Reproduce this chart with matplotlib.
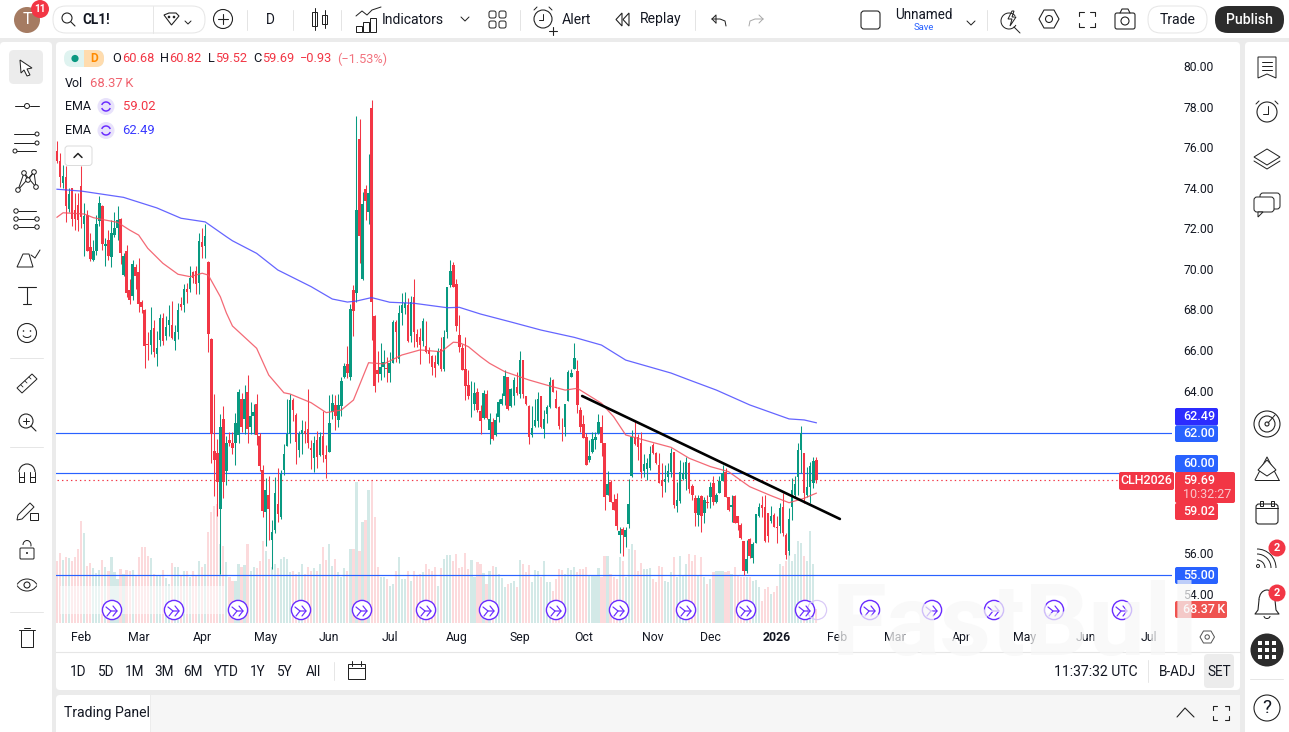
import matplotlib
matplotlib.use("Agg")
import matplotlib.pyplot as plt
from matplotlib.patches import FancyBboxPatch, Rectangle, Circle, Polygon, Arc

plt.rcParams['font.family'] = ['Roboto', 'DejaVu Sans']

# ---------- data ----------
opens = [75.9,75.4,74.3,74.6,73.05,74.05,73.0,73.2,74.15,72.3,72.75,71.15,70.5,70.95,72.45,73.15,71.2,71.5,70.65,71.75,
72.1,72.55,69.75,70.95,69.05,68.75,70.15,69.9,68.45,68.05,66.35,66.3,67.15,65.9,66.55,67.65,66.75,67.3,67.3,66.5,
66.95,68.35,68.3,69.1,69.1,69.9,69.95,69.4,71.4,71.2,70.4,66.6,61.1,61.0,58.25,62.7,60.1,61.65,61.5,61.5,
61.9,63.65,62.7,64.0,62.3,62.8,63.4,61.85,60.15,58.1,58.95,56.7,57.2,58.5,57.85,60.15,61.35,61.95,63.6,62.85,
61.15,61.95,62.1,62.2,61.25,60.75,61.65,60.9,61.85,60.9,61.05,63.0,63.35,62.65,63.3,64.75,65.4,64.75,69.05,68.87,
76.5,69.56,74.0,72.9,78.0,67.75,65.09,64.88,65.25,65.17,64.93,65.42,67.47,65.62,67.92,68.13,68.29,66.77,68.69,66.86,
66.7,66.54,66.27,66.08,65.8,65.5,65.37,66.13,65.12,66.98,69.28,70.27,69.31,66.8,66.16,65.12,64.35,63.85,63.41,63.99,
63.07,62.71,63.9,62.13,62.54,61.89,62.76,63.41,63.81,64.73,63.31,63.81,64.23,63.9,65.58,63.81,63.31,61.89,62.33,62.59,
63.81,62.18,62.92,63.28,64.6,63.64,63.25,62.3,62.3,63.58,64.73,65.12,65.06,63.12,62.43,61.8,60.65,61.06,61.64,61.97,
62.26,61.47,58.93,59.57,58.6,58.71,56.96,57.24,56.87,57.5,59.88,61.8,61.77,61.48,60.13,60.2,60.25,61.4,60.98,60.41,
59.67,59.59,59.83,60.08,61.05,58.39,58.65,59.72,59.7,60.52,59.37,58.8,57.95,58.88,58.03,58.57,58.85,59.5,58.6,59.05,
59.64,60.08,58.82,58.32,58.88,57.9,57.45,56.66,55.2,56.76,55.81,56.58,57.9,58.44,58.36,58.03,57.67,57.95,57.37,57.4,
58.32,56.96,56.19,58.36,58.93,59.83,61.15,60.98,58.93,59.31,59.54,60.68]
closes = [75.4,74.6,74.65,73.15,73.75,72.55,72.55,72.5,72.65,72.7,70.95,70.55,70.95,72.3,73.3,71.3,71.3,70.7,71.85,72.1,
72.5,70.85,70.7,68.9,68.55,70.3,69.7,68.35,68.2,66.25,66.3,67.05,66.0,66.2,67.65,66.5,67.2,67.55,66.65,66.95,
68.05,68.2,69.1,68.95,69.65,69.65,69.35,71.45,71.15,71.7,66.85,61.95,60.65,59.55,62.3,59.55,61.5,61.5,61.25,62.5,
64.0,62.3,63.65,62.2,62.8,63.0,61.9,60.35,58.15,59.2,58.25,57.1,59.05,58.0,59.95,60.95,61.95,63.6,63.1,61.55,
61.95,62.15,61.95,61.5,61.15,61.5,60.8,61.8,60.9,60.7,62.5,63.45,62.8,63.35,64.55,65.3,64.95,68.1,68.0,72.98,
71.7,73.25,73.42,73.8,68.46,64.32,64.88,65.25,65.47,65.12,65.42,67.47,66.95,67.88,68.29,68.38,66.54,68.42,66.95,66.49,
66.32,67.5,66.0,65.88,65.25,65.2,66.03,65.12,66.7,69.2,69.97,69.2,67.26,66.24,65.09,64.3,63.81,63.88,63.94,63.12,
62.59,63.94,62.71,62.66,61.67,62.62,63.5,63.64,64.79,63.15,64.14,64.6,63.94,65.58,63.9,63.41,61.8,62.21,62.62,63.64,
62.3,62.66,63.25,64.51,64.02,63.2,62.33,62.27,63.41,65.0,64.92,65.66,63.36,62.26,61.75,60.41,60.85,61.7,61.8,62.51,
61.47,58.85,59.47,58.6,58.19,57.4,57.15,56.96,57.2,58.48,61.77,61.44,61.28,60.08,60.46,60.49,60.95,60.98,60.49,59.54,
59.37,59.7,60.11,61.02,58.44,58.68,60.08,60.0,60.57,59.21,58.93,58.03,58.8,57.9,58.68,58.55,59.31,58.57,58.93,59.64,
60.03,58.85,58.19,58.44,57.53,57.53,56.8,55.2,55.78,55.94,56.52,58.0,58.32,58.27,56.68,56.91,57.9,57.37,57.3,58.27,
57.07,55.97,57.73,59.18,59.47,61.15,61.97,59.01,59.31,60.36,60.61,59.69]
highs = [76.4,75.8,75.2,75.15,74.05,74.05,73.8,73.8,75.15,73.3,73.0,71.85,71.5,72.75,73.65,73.2,71.6,72.0,72.5,72.9,
73.15,72.6,70.85,71.25,69.6,70.5,70.3,70.6,68.55,68.1,66.95,68.2,67.55,67.0,67.85,67.9,67.75,68.3,68.5,67.3,
68.4,68.7,69.35,69.4,70.2,69.95,70.2,71.85,72.1,72.3,70.45,66.65,63.9,61.7,62.9,63.3,61.85,62.05,62.05,62.95,
64.15,63.95,64.35,64.85,63.5,63.4,63.9,62.0,60.4,59.75,59.85,57.7,59.8,60.25,60.15,61.45,63.65,63.9,63.7,62.95,
62.1,62.65,62.6,64.15,61.65,61.85,62.1,62.05,63.05,61.4,63.85,63.9,63.85,63.9,64.75,65.45,66.25,68.35,69.3,77.6,
77.46,73.88,74.2,75.74,78.4,67.8,66.03,66.4,66.07,65.75,66.0,67.55,67.55,68.29,68.9,68.95,68.62,68.74,69.6,67.13,
67.14,67.64,67.5,66.24,65.83,65.83,66.16,66.7,67.06,69.2,70.51,70.4,69.6,67.8,66.37,66.7,65.09,64.55,64.51,64.18,
63.36,64.1,64.1,62.95,62.75,62.95,63.66,63.94,65.09,64.73,64.18,64.73,65.0,66.02,65.6,63.81,63.36,63.31,63.64,64.02,
63.81,63.12,63.36,64.76,64.63,64.1,63.31,62.75,63.41,65.09,65.12,66.4,65.6,63.28,62.87,62.0,61.64,62.05,62.05,62.9,
62.87,61.47,60.13,59.67,59.0,59.04,57.37,57.37,57.37,59.7,62.13,62.59,61.95,62.05,60.95,60.74,61.34,61.47,61.05,60.98,
60.49,60.41,60.49,61.23,61.07,59.59,60.66,60.57,60.82,60.57,59.47,58.93,58.93,58.93,58.85,58.93,59.59,59.87,59.05,59.87,
60.41,60.25,58.85,58.93,58.93,57.9,57.53,56.66,56.71,56.8,56.6,58.0,58.52,58.88,58.93,58.03,58.39,58.03,57.9,58.52,
59.01,57.04,58.27,59.75,59.87,61.48,62.33,61.02,60.29,60.57,60.82,60.82]
lows = [75.3,74.1,74.05,72.4,72.9,72.2,72.0,71.95,72.1,70.7,70.95,70.45,70.45,70.75,72.2,71.0,70.2,70.5,70.15,71.65,
71.5,70.3,69.7,68.7,68.35,68.55,69.1,67.95,67.9,65.2,65.6,65.9,65.75,65.3,66.25,66.3,66.55,66.75,66.6,66.1,
66.6,68.05,67.95,68.4,68.95,69.4,68.85,68.85,70.6,70.6,66.0,60.5,58.9,57.9,55.05,58.8,59.4,61.35,60.95,60.4,
61.5,62.05,61.95,61.5,61.95,61.95,61.4,60.1,57.85,56.4,56.7,55.3,57.05,57.6,57.75,59.9,61.35,61.5,62.6,60.45,
60.8,60.95,61.5,61.25,60.2,60.05,60.25,60.85,60.55,59.75,61.05,62.7,62.15,62.3,62.8,64.7,64.7,64.6,66.75,68.46,
70.35,69.53,72.5,72.3,66.57,64.02,64.52,64.6,64.76,64.52,64.52,65.42,65.5,65.42,67.31,67.85,66.45,66.49,66.24,66.24,
65.39,66.27,65.91,65.42,64.84,64.73,65.34,65.06,65.06,66.65,69.2,69.16,67.03,66.0,65.09,63.6,63.64,62.79,63.12,63.04,
61.93,62.66,62.66,61.44,61.64,61.84,62.54,63.36,63.36,63.12,63.25,63.36,63.86,63.69,63.7,63.36,61.44,61.77,62.3,62.3,
62.21,61.72,62.46,63.2,63.99,63.2,62.16,61.6,61.84,63.58,64.73,65.12,62.99,62.05,61.72,60.41,60.57,61.0,61.18,61.93,
60.85,58.19,58.93,58.6,58.19,57.2,56.08,55.92,56.38,57.29,59.83,61.4,60.65,59.75,59.8,59.67,60.16,60.95,60.45,59.5,
58.85,59.1,59.59,59.83,58.27,58.11,58.55,59.67,59.18,59.01,58.68,57.4,57.4,57.12,57.57,58.27,58.27,58.44,58.52,59.01,
59.62,58.82,58.16,57.62,57.53,57.21,56.75,54.99,55.07,55.81,55.6,56.55,57.83,57.86,56.63,56.63,57.57,57.34,56.58,57.04,
56.91,55.76,55.97,57.7,58.77,58.93,60.0,58.55,58.85,58.55,59.26,59.52]
volumes = [312,349,316,332,326,312,332,371,512,449,287,301,276,251,266,316,279,259,332,254,
221,271,246,266,259,266,237,329,382,379,337,326,246,237,241,267,226,196,299,279,
282,237,259,259,229,262,237,309,282,296,454,554,587,596,396,387,304,229,212,212,
296,279,292,396,262,282,276,309,412,359,321,279,296,276,321,329,321,254,262,246,
254,296,246,279,262,276,259,296,379,316,396,287,321,254,229,276,262,371,371,704,
362,504,516,667,716,532,279,229,229,221,187,196,262,329,221,221,259,212,262,237,
246,254,296,271,262,279,187,276,321,342,342,312,346,276,279,349,271,317,229,304,
296,249,196,262,287,279,246,226,179,196,199,209,182,317,296,254,292,204,266,259,
229,309,204,204,162,221,271,266,246,276,266,282,254,271,271,279,237,237,237,276,
229,337,337,246,229,221,329,312,229,371,396,367,262,301,271,271,276,221,204,287,
279,212,204,254,329,229,337,237,296,346,312,342,237,329,232,196,221,254,259,262,
262,254,262,246,282,237,229,232,232,229,212,216,179,112,171,179,146,154,187,296,
287,312,354,312,346,409,401,337,312,462,296,68]

ema_slow_bar = [0,8,22,33,41,49,56,58,66,73,84,91,96,99,104,110,118,129,133,140,150,160,171,180,188,203,209,218,229,242,247,251]
ema_slow_val = [74.0,73.91,73.6,73.08,72.57,72.39,71.66,71.46,70.84,70.02,69.2,68.59,68.44,68.49,68.66,68.43,68.38,68.16,68.18,67.85,67.46,67.06,66.7,66.32,65.58,64.94,64.6,64.1,63.37,62.68,62.63,62.49]
ema_fast_bar = [0,2,9,12,16,20,24,27,30,35,40,44,48,50,54,56,58,66,70,75,77,84,89,94,98,103,108,114,120,127,131,133,136,140,143,148,156,163,168,172,180,184,188,196,203,209,216,222,229,236,242,247,251]
ema_fast_val = [72.62,72.84,72.78,72.6,72.48,72.37,71.99,71.74,71.09,70.35,69.81,69.69,69.86,69.77,68.7,67.9,67.26,66.16,64.84,63.97,63.91,63.48,62.99,63.12,63.61,65.45,65.39,65.83,66.08,65.99,66.46,66.44,66.24,65.75,65.42,65.01,64.6,64.3,64.1,64.19,63.45,62.79,61.89,61.56,61.28,60.74,60.33,60.08,59.34,58.9,58.55,58.77,59.02]

trend_bar = [173.6, 258.8]
trend_val = [63.81, 57.75]
level_lines = [62.0, 60.0, 55.0]
last_price = 59.69

price_ticks = [80,78,76,74,72,70,68,66,64,56,54]
month_labels = ['Feb','Mar','Apr','May','Jun','Jul','Aug','Sep','Oct','Nov','Dec','2026','Feb','Mar','Apr','May','Jun','Jul']
month_bars = [8,27,48,69,90,110,132,153,174,197,216,238,258,277,299,320,340,361]
range_labels = ['1D','5D','1M','3M','6M','YTD','1Y','5Y','All']

GREEN, RED, BLUE = '#089981', '#f23645', '#2962ff'
INK = '#131722'
W, H = 1289, 732

fig = plt.figure(figsize=(W/100, H/100), dpi=100, facecolor='#ebebeb')

# ---------- background panels ----------
bg = fig.add_axes([0,0,1,1], zorder=0); bg.set_xlim(0,W); bg.set_ylim(H,0); bg.axis('off')
def panel(x0,y0,x1,y1,r=4):
    bg.add_patch(FancyBboxPatch((x0+r,y0+r),x1-x0-2*r,y1-y0-2*r,boxstyle=f'round,pad={r},rounding_size={r}',fc='white',ec='none'))
bg.add_patch(Rectangle((0,0),W,38,fc='white',ec='none'))
panel(0,42,52,745); panel(56,42,1240,690); panel(1245,42,1300,745); panel(56,695,1240,745)
bg.plot([56,1240],[652,652],color='#e6e6e6',lw=0.8)

# ---------- chart ----------
def pos(x0,y0,x1,y1): return [x0/W, 1-y1/H, (x1-x0)/W, (y1-y0)/H]
XLIM = ((56-57)/3.025, (1172-57)/3.025)
YLIM = (80-(623-67.5)/20.29, 80+(67.5-42)/20.29)

vx = fig.add_axes(pos(56,42,1172,623), zorder=1, facecolor='none')
vx.set_xlim(*XLIM); vx.set_ylim(0, 581*5.0)
bars = range(len(opens))
vcol = ['#d3e9e7' if c >= o else '#fcdadc' for o,c in zip(opens,closes)]
vx.bar(bars, volumes, width=0.72, color=vcol, linewidth=0)
vx.set_yticks([])
vx.set_xticks(month_bars); vx.set_xticklabels(month_labels, fontsize=8.8, color=INK)
vx.get_xticklabels()[11].set_fontweight('bold')
vx.tick_params(axis='x', length=0, pad=6)
for s in vx.spines.values(): s.set_visible(False)

ax = fig.add_axes(pos(56,42,1172,623), zorder=2, facecolor='none')
ax.set_xlim(*XLIM); ax.set_ylim(*YLIM)
ax.set_xticks([])
ax.yaxis.tick_right()
ax.set_yticks(price_ticks); ax.set_yticklabels([f'{t:.2f}' for t in price_ticks], fontsize=8.7, color=INK, va='center')
ax.tick_params(axis='y', length=0, pad=8)
for s in ax.spines.values(): s.set_visible(False)
for lv in level_lines:
    ax.axhline(lv, color=BLUE, lw=0.85, zorder=1)
ax.plot([0,(1119-57)/3.025],[last_price]*2, color=RED, lw=0.85, ls=(0,(1.2,2.6)), zorder=1)
col = [GREEN if c >= o else RED for o,c in zip(opens,closes)]
ax.vlines(bars, lows, highs, colors=col, lw=0.75, zorder=2)
ax.bar(bars, [abs(c-o) for o,c in zip(opens,closes)], bottom=[min(o,c) for o,c in zip(opens,closes)],
       width=0.84, color=col, linewidth=0, zorder=3)
ax.plot(ema_slow_bar, ema_slow_val, color='#4a4aff', lw=0.9, alpha=0.85, zorder=4, solid_joinstyle='round')
ax.plot(ema_fast_bar, ema_fast_val, color='#f2505e', lw=0.9, alpha=0.85, zorder=4, solid_joinstyle='round')
ax.plot(trend_bar, trend_val, color='black', lw=1.9, zorder=5, solid_capstyle='round')

# ---------- overlay chrome ----------
o = fig.add_axes([0,0,1,1], zorder=3, facecolor='none'); o.set_xlim(0,W); o.set_ylim(H,0); o.axis('off')
PX = 0.72
def T(x,y,s,size=13,color=INK,ha='left',weight='normal',z=5):
    return o.text(x,y,s,fontsize=size*PX,color=color,ha=ha,va='center',fontweight=weight,zorder=z)
def L(xs,ys,c='#222',lw=1.0,z=4):
    o.plot(xs,ys,color=c,lw=lw*PX,solid_capstyle='round',solid_joinstyle='round',zorder=z)
def C(x,y,r,ec='#222',fc='none',lw=1.0,z=4,alpha=None):
    o.add_patch(Circle((x,y),r,ec=ec,fc=fc,lw=lw*PX,zorder=z,alpha=alpha))
def R(x0,y0,x1,y1,fc='none',ec='none',r=0,lw=1.0,z=4,alpha=None):
    if r:
        o.add_patch(FancyBboxPatch((x0+r,y0+r),x1-x0-2*r,y1-y0-2*r,boxstyle=f'round,pad={r},rounding_size={r}',fc=fc,ec=ec,lw=lw*PX,zorder=z,alpha=alpha))
    else:
        o.add_patch(Rectangle((x0,y0),x1-x0,y1-y0,fc=fc,ec=ec,lw=lw*PX,zorder=z,alpha=alpha))

# legend
R(64,50,104,67,fc='#dff3f0',r=8); R(84,50,104,67,fc='#ffdcae',r=8); R(84,50,94,67,fc='#ffdcae')
C(75,58.5,3.6,ec='none',fc=GREEN); T(94,59,'D',12,'#ff8a00',ha='center',weight='bold')
for x,s,c in [(112,'O',INK),(122,'60.68',RED),(160,'H',INK),(169,'60.82',RED),(208,'L',INK),(215,'59.52',RED),
              (253,'C',INK),(262,'59.69',RED),(300,'\u22120.93',RED),(337,'(\u22121.53%)','#f2737e')]:
    T(x,59,s,12.8,c)
T(65,83.5,'Vol',12.5); T(90,83.5,'68.37\u2009K',13,'#f0626e')
T(65,107,'EMA',12.5); T(122.5,107,'59.02',13,RED)
T(65,131,'EMA',12.5); T(122.5,131,'62.49',13,'#3a3aff')
for y in (106.5,130.5):
    C(106,y,8.5,ec='none',fc='#e8e2fb')
    o.add_patch(Arc((106,y),9,9,theta1=200,theta2=340,ec='#6a2cff',lw=1.5*PX,zorder=5))
    o.add_patch(Arc((106,y),9,9,theta1=20,theta2=160,ec='#6a2cff',lw=1.5*PX,zorder=5))
R(65,146,92,165.5,fc='white',ec='#dcdcdc',r=3)
L([74,78,82],[157.5,153.5,157.5],lw=1.5,z=5)

# event icons
for x in [112,174,238,301,362,426,489,556,619,686,746,805,870,932,994,1054,1122]:
    C(x,610,9.6,ec='#6a2cff',fc='white',lw=1.4,z=4)
    L([x-6,x-1,x+5],[607,611,611],c='#6a2cff',lw=1.2,z=5)
    L([x+1,x+5,x+1],[606,611,616],c='#6a2cff',lw=1.2,z=5)
    L([x-1,x-5],[611,616],c='#6a2cff',lw=1.2,z=5)
C(817,610,9.6,ec='#d9c9f7',fc='none',lw=1.2,z=4)
R(60,586,225,614,fc='white',alpha=0.55,z=3)

# price labels
def tag(y0,y1,s,fc,x1=1218,x0=1175,tx=1183,c='white'):
    R(x0,y0,x1,y1,fc=fc,r=2,z=4); T(tx,(y0+y1)/2,s,12.5,c,weight='medium')
tag(408,425.5,'62.49','#2c2cff'); tag(425.5,442,'62.00',BLUE); tag(455,472,'60.00',BLUE)
R(1175,472,1235,503,fc=RED,r=2,z=4)
T(1183,481,'59.69',12.5,'white',weight='medium'); T(1183,495,'10:32:27',12.5,'#f9c6cb')
tag(503,520,'59.02',RED); tag(567,584,'55.00',BLUE)
tag(601,618,'68.37\u2009K','#ef5350',x1=1227)
R(1119,472,1174,490,fc=RED,r=2,z=4); T(1146.5,481,'CLH2026',12.5,'white',ha='center',weight='medium')

# ---- top toolbar ----
C(27,20,13,ec='none',fc='#a57b62'); T(27,20,'T',16,'white',ha='center')
C(40,9,9,ec='none',fc=RED); T(40,9,'11',10,'white',ha='center',weight='bold')
R(53,6,205,33,fc='white',ec='#e6e6e6',r=13)
L([153,153],[6,33],c='#e6e6e6')
C(67,18,5,lw=1.1); L([71,75],[22,26],lw=1.1)
T(82,19.5,'CL1!',13.5,INK,weight='bold')
o.add_patch(Polygon([[164,15],[169,13],[176,13],[179,16],[171.5,25]],closed=True,fc='none',ec='#222',lw=1.1*PX,zorder=4))
C(169,17,1.3,ec='none',fc='#222'); C(174,17,1.3,ec='none',fc='#222')
L([185,188,191],[21,24,21]) 
C(223,19,9.5,lw=1.1); L([223,223],[14,24],lw=1.1); L([218,228],[19,19],lw=1.1)
for x in (247,293,341,520,695,987): L([x,x],[10,30],c='#e4e4e4')
T(270,19.5,'D',13.5,INK,ha='center')
R(312,12,317,26,ec='#222'); L([314.5,314.5],[8,30]); R(322,15,327,24,ec='#222'); L([324.5,324.5],[10,28])
L([356,362,367,372,381],[16,11,15,10,7])
for x0,yt in ((356,26),(363,22),(370,18)): R(x0,yt,x0+6,32,ec='#222')
T(382,19.5,'Indicators',14)
L([461,465,469],[17,21,17])
for x,y in ((489,11),(499,11),(489,21),(499,21)): R(x,y,x+7,y+7,ec='#222',r=2)
C(543,19,9,lw=1.1); L([543,543,539],[14,20,20]); L([534,537],[10,7]); L([552,549],[10,7])
L([549,557],[31,31],lw=1.1); L([553,553],[27,35],lw=1.1)
T(562,19.5,'Alert',14)
o.add_patch(Polygon([[622,13],[616,19.5],[622,26]],closed=True,fc='none',ec='#222',lw=1.1*PX,zorder=4))
o.add_patch(Polygon([[629,13],[623,19.5],[629,26]],closed=True,fc='none',ec='#222',lw=1.1*PX,zorder=4))
T(640,19.5,'Replay',14)
L([712,716,716],[19,15,23][:3]); L([712,720,725,726],[19,19,21,26]); L([712,716],[19,23])
L([763,759],[19,15],c='#aaa'); L([763,759],[19,23],c='#aaa'); L([763,755,750,749],[19,19,21,26],c='#aaa')
R(861,11,880,29,ec='#222',r=3,lw=1.1)
T(924,15,'Unnamed',13.5,ha='center'); T(924,27.5,'Save',9.5,BLUE,ha='center')
L([967,971,975],[21,25,21])
o.add_patch(Arc((1009,21),16,16,theta1=30,theta2=320,ec='#222',lw=1*PX,zorder=4)); L([1014,1020],[27,33])
o.add_patch(Polygon([[1012,11],[1008,19],[1012,19],[1010,26],[1016,17],[1012,17],[1014,11]],closed=True,fc='none',ec='#222',lw=1*PX,zorder=5))
o.add_patch(Polygon([[1039,19],[1044,10],[1054,10],[1059,19],[1054,28],[1044,28]],closed=True,fc='none',ec='#222',lw=1.1*PX,zorder=4))
C(1049,19,3.5,lw=1.1)
for xs,ys in (([1079,1079,1084],[16,12,12]),([1090,1095,1095],[12,12,16]),([1079,1079,1084],[23,27,27]),([1090,1095,1095],[27,27,23])): L(xs,ys,lw=1.1)
R(1115,13,1135,29,ec='#222',r=2,lw=1.1); L([1120,1122,1128,1130],[13,9,9,13],lw=1.1); C(1125,21,4,lw=1.1)
R(1148,6,1207,33,fc='white',ec='#e6e6e6',r=13); T(1177.5,19.5,'Trade',14,ha='center')
R(1215,6,1284,33,fc='#2c2c2c',r=13); T(1249.5,19.5,'Publish',14,'white',ha='center',weight='medium')

# ---- left toolbar ----
R(9,50,43,84,fc='#ececec',r=5)
o.add_patch(Polygon([[20,60],[32,68],[27,69],[30,75],[27,76],[24,70],[21,73]],closed=True,fc='white',ec='#222',lw=1*PX,zorder=5))
L([15,24],[106,106]); C(27,106,2.5,fc='white'); L([30,39],[106,106])
for y in (134,143,151): L([14,36],[y,y])
C(37,134,2,fc='white'); C(37,143,2,fc='white'); C(15,151,2,fc='white')
pts=[(18,190),(24,173),(28,180),(34,172),(36,187)]
L([p[0] for p in pts],[p[1] for p in pts]); L([18,34],[190,172]); L([24,36],[173,187])
for p in pts: C(p[0],p[1],2.3,fc='white')
for y in (211,219,227): L([18,36],[y,y])
for y in (211,219,227): C(16,y,2.2,fc='white')
C(37,219,2.2,fc='white'); C(37,227,2.2,fc='white')
o.add_patch(Polygon([[17,267],[33,267],[29,254],[23,254]],closed=True,fc='none',ec='#222',lw=1*PX,zorder=4)); L([31,35,40],[255,258,250])
L([18,36],[287,287],lw=1.1); L([27,27],[287,304],lw=1.1); L([23,31],[304,304],lw=1.1)
C(27,333,9.5,lw=1.1); C(23.5,331,0.8,ec='none',fc='#222'); C(30.5,331,0.8,ec='none',fc='#222')
o.add_patch(Arc((27,334),9,7,theta1=20,theta2=160,ec='#222',lw=1*PX,zorder=4))
for y in (358,447,612): L([10,43],[y,y],c='#e6e6e6')
o.add_patch(Polygon([[17,388],[32,374],[37,379],[22,393]],closed=True,fc='none',ec='#222',lw=1*PX,zorder=4))
for d in (0,4,8): L([21+d,23+d],[385-d,387-d],lw=0.8)
C(26,421,7,lw=1.1); L([23,29],[421,421]); L([26,26],[418,424]); L([31,36],[426,431],lw=1.1)
o.add_patch(Arc((27,472),16,16,theta1=180,theta2=360,ec='#222',lw=1.1*PX,zorder=4))
L([19,19,24,24],[472,482,482,472]); L([30,30,35,35],[472,482,482,472]); L([19,24],[477,477]); L([30,35],[477,477])
o.add_patch(Polygon([[18,515],[30,503],[34,507],[22,519],[17,520]],closed=True,fc='none',ec='#222',lw=1*PX,zorder=4))
R(30,513,38,520,ec='#222')
R(20,548,34,559,ec='#222',r=1); o.add_patch(Arc((27,545),8,9,theta1=180,theta2=20,ec='#222',lw=1*PX,zorder=4))
C(27,553,1,ec='none',fc='#222')
o.add_patch(Arc((27,589),22,20,theta1=205,theta2=335,ec='#222',lw=1*PX,zorder=4))
o.add_patch(Arc((27,581),22,20,theta1=25,theta2=155,ec='#222',lw=1*PX,zorder=4))
C(27,585,3,lw=1.1)
L([19,35],[630,630]); R(21,630,33,647,ec='#222'); L([24,30],[628,628])

# ---- right toolbar ----
X = 1267
o.add_patch(Polygon([[1258,57],[1276,57],[1276,78],[1267,74],[1258,78]],closed=True,fc='none',ec='#222',lw=1*PX,zorder=4))
for y in (62,66,70): L([1262,1272],[y,y])
C(X,112,10,lw=1.1); L([1268,1268,1263],[106,114,114]); L([1256,1259],[104,101]); L([1278,1275],[104,101])
o.add_patch(Polygon([[1254,157],[1267,149],[1280,157],[1267,165]],closed=True,fc='none',ec='#222',lw=1*PX,zorder=4))
L([1254,1267,1280],[161,169,161])
R(1260,193,1280,209,ec='#222',r=3,fc='white',z=4); R(1254,197,1274,212,ec='#222',r=3,fc='white',z=5)
o.add_patch(Polygon([[1258,212],[1258,217],[1263,212]],closed=True,fc='white',ec='#222',lw=1*PX,zorder=6))
C(X,424,13,lw=1.1); C(X,424,8,lw=1.1); C(X,424,2,lw=1.1); L([1268,1275],[423,415])
L([1255,1267,1279],[480,457,480]); L([1255,1279],[480,480])
o.add_patch(Polygon([[1258,470],[1267,460],[1276,470],[1267,476]],closed=True,fc='white',ec='#222',lw=1*PX,zorder=4))
R(1256,504,1278,524,ec='#222',r=3,lw=1.1); L([1256,1278],[508,508]); R(1260,501,1263,506,ec='#222'); R(1271,501,1274,506,ec='#222')
C(1258,566,1.5,ec='#222')
for r in (8,14,19):
    o.add_patch(Arc((1257,568),2*r,2*r,theta1=270,theta2=360,ec='#222',lw=1*PX,zorder=4))
C(1277,548,8.5,ec='none',fc=RED,z=5); T(1277,548,'2',11,'white',ha='center',weight='bold',z=6)
o.add_patch(Arc((1267,600),16,20,theta1=180,theta2=360,ec='#222',lw=1.1*PX,zorder=4))
L([1259,1258,1255,1279,1276,1275],[600,610,614,614,610,600],lw=1.1); o.add_patch(Arc((1267,616),6,5,theta1=0,theta2=180,ec='#222',lw=1*PX,zorder=4))
C(1277,593,8.5,ec='none',fc=RED,z=5); T(1277,593,'2',11,'white',ha='center',weight='bold',z=6)
C(X,650,16.5,ec='none',fc='#2c2c2c')
for dx in (-7,0,7):
    for dy in (-7,0,7):
        R(X+dx-2.3,650+dy-2.3,X+dx+2.3,650+dy+2.3,fc='white',z=5)
L([1250,1283],[679,679],c='#e6e6e6')
C(X,708,13,lw=1.1); T(X,708,'?',19,ha='center')

# ---- bottom strip ----
for x,s in zip([78,106,135,164,193,226,258,285,313],range_labels):
    T(x,671.5,s,13.5,ha='center')
R(348,664,365,679,ec='#222'); L([348,365],[668,668]); L([352,352],[661,666]); L([361,361],[661,666])
L([334,334],[662,680],c='#e6e6e6'); L([1148,1148],[660,682],c='#e6e6e6')
T(1138,671.5,'11:37:32 UTC',14,ha='right'); T(1177,671.5,'B-ADJ',13.5,ha='center')
R(1204,654,1234,688,fc='#ececec',r=4); T(1219,671.5,'SET',13.5,ha='center',z=6)
o.add_patch(Polygon([[1200,637],[1203.5,631],[1211,631],[1214.5,637],[1211,643],[1203.5,643]],closed=True,fc='none',ec='#555',lw=1*PX,zorder=4))
C(1207.2,637,2.2,ec='#555')
bg.add_patch(Rectangle((150,695),1090,40,fc='#f6f6f6',ec='none'))
T(64,713.5,'Trading Panel',14)
bg.add_patch(Rectangle((150,695),1,40,fc='#ececec',ec='none'))
L([1177,1185,1194],[717,708,717],lw=1.1)
for xs,ys in (([1213,1213,1217],[710,706,706]),([1225,1229,1229],[706,706,710]),([1213,1213,1217],[716,720,720]),([1225,1229,1229],[720,720,716])): L(xs,ys,lw=1.1)

# watermark
o.text(1015,628,'FastBull',fontsize=72,fontweight='bold',color='#f7f7f7',alpha=0.72,ha='center',va='center',zorder=9)

fig.savefig('out.png', dpi=100, facecolor=fig.get_facecolor())
